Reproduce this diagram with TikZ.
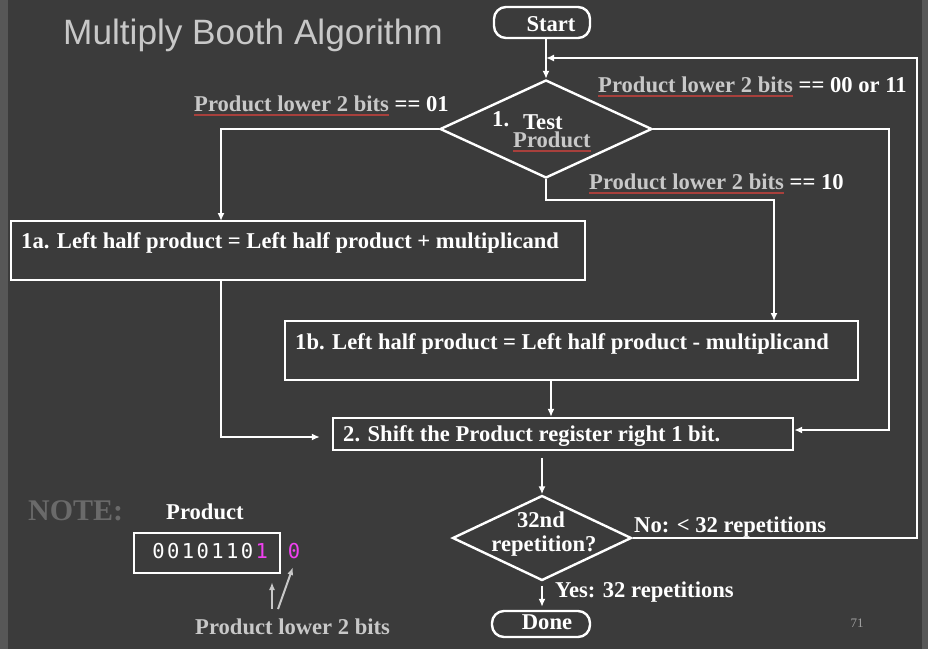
\documentclass[tikz,border=0pt]{standalone}
\usepackage{fontspec}
\setmainfont{Liberation Serif}
\setsansfont{Liberation Sans}
\newfontfamily\monofnt{DejaVu Sans Mono}
\usetikzlibrary{shapes.geometric,arrows.meta,calc}
\definecolor{bgc}{HTML}{3B3B3B}
\definecolor{stripc}{HTML}{575757}
\definecolor{lgray}{HTML}{C8C8C8}
\definecolor{ulc}{HTML}{A8403C}
\definecolor{notec}{HTML}{6A6A6A}
\definecolor{magc}{HTML}{F040F0}
\definecolor{pgc}{HTML}{A0A0A0}
\newcommand\redul[1]{\sbox0{#1}\rlap{\color{ulc}\vrule width\wd0 height -3pt depth 4.5pt}\box0\relax}
\newcommand\dg[1]{\makebox[14.75pt]{#1}}
\begin{document}
\begin{tikzpicture}[x=1pt,y=-1pt,
  lbl/.style={inner sep=0, anchor=base west, font=\fontsize{22.6}{24}\selectfont\bfseries, text=white},
  glbl/.style={lbl, text=lgray},
  box/.style={draw=white, line width=2.4pt, rectangle, inner sep=0},
  rbox/.style={box, rounded corners=12pt},
  dia/.style={draw=white, line width=2.4pt, diamond, inner sep=0},
  arr/.style={draw=white, line width=2.4pt, -{Latex[length=8pt,width=7pt]}},
  garr/.style={draw=lgray, line width=2pt, -{Latex[length=8pt,width=6pt]}}]
\fill[bgc] (0,0) rectangle (928,649);
\fill[stripc] (0,0) rectangle (8,649);
\fill[stripc] (922,0) rectangle (928,649);
\useasboundingbox (0,0) rectangle (928,649);

% title
\node[inner sep=0, anchor=base west, font=\sffamily\fontsize{35.2}{38}\selectfont, text=lgray] (title) at (63,44) {Multiply Booth Algorithm};

% shapes
\node[rbox, minimum width=96, minimum height=31] (start) at (542,22.5) {};
\node[lbl, anchor=base] (startt) at (551,31) {Start};
\node[dia, minimum width=212, minimum height=98] (d1) at (546,129) {};
\node[box, minimum width=574, minimum height=59] (b1a) at (298,250.5) {};
\node[box, minimum width=573, minimum height=59] (b1b) at (571.5,350.5) {};
\node[box, minimum width=460, minimum height=32] (b2) at (563,434) {};
\node[dia, minimum width=179, minimum height=85] (d2) at (542,538) {};
\node[rbox, minimum width=98, minimum height=26] (done) at (541,624) {};

% texts in shapes
\node[lbl] (t1) at (492,126) {1.};
\node[lbl] (t1b) at (523,129) {Test};
\node[glbl] (t1c) at (513,147) {\redul{Product}};
\node[lbl] (t1a) at (21,248) {1a. Left half product = Left half product + multiplicand};
\node[lbl] (t1bb) at (295,349) {1b. Left half product = Left half product - multiplicand};
\node[lbl] (t2) at (343,441) {2. Shift the Product register right 1 bit.};
\node[lbl, anchor=base] (t32) at (541,527) {32nd};
\node[lbl, anchor=base] (trep) at (544,551) {repetition?};
\node[lbl, anchor=base] (tdone) at (547,629) {Done};

% branch labels
\node[glbl] (l01) at (194,111) {\redul{Product lower 2 bits} \textcolor{white}{== 01}};
\node[glbl] (l00) at (598,92) {\redul{Product lower 2 bits} \textcolor{white}{== 00 or 11}};
\node[glbl] (l10) at (589,189) {\redul{Product lower 2 bits} \textcolor{white}{== 10}};
\node[lbl] (lno) at (634,532) {No: < 32 repetitions};
\node[lbl] (lyes) at (555,597) {Yes: 32 repetitions};

% connectors
\draw[arr] (start.south -| d1.north) -- (d1.north);
\coordinate (loopR) at (917,58);
\draw[arr] (d2.east) -| (loopR) -- (d1.north |- loopR);
\coordinate (rgt) at (889,129);
\draw[arr] (d1.east) -- (rgt) |- ([yshift=4pt]b2.east);
\coordinate (c1a) at (221,221);
\draw[arr] (d1.west) -| (c1a);
\coordinate (d1b) at (546,200);
\coordinate (c1b) at (774,321);
\draw[arr] (d1.south) -- (d1b) -| (c1b);
\coordinate (c1abot) at (221,280);
\draw[arr, shorten >=12pt] (c1abot) |- ([yshift=-3pt]b2.west);
\coordinate (c1bbot) at (551,380);
\draw[arr] (c1bbot) -- (c1bbot |- b2.north);
\draw[arr, shorten <=7pt] (b2.south -| d2.north) -- (d2.north);
\draw[arr, shorten <=4pt, shorten >=3pt] (d2.south) -- (d2.south |- done.north);

% note
\node[inner sep=0, anchor=base west, font=\fontsize{30}{32}\selectfont\bfseries, text=notec] (note) at (28,520) {NOTE:};
\node[lbl] (prod) at (166,519) {Product};
\node[box, minimum width=146, minimum height=40] (pbox) at (207,553) {};
\node[inner sep=0, anchor=base west, font=\monofnt\fontsize{20.5}{22}\selectfont, text=white] (bits) at (151,558) {\dg0\dg0\dg1\dg0\dg1\dg1\dg0\textcolor{magc}{\dg1}};
\node[inner sep=0, anchor=base, font=\monofnt\fontsize{20.5}{22}\selectfont, text=magc] (bit0) at (294,558) {0};
\node[glbl] (plow) at (195,634) {Product lower 2 bits};
\coordinate (a1s) at (272,609);
\coordinate (a1e) at (272,582);
\coordinate (a2s) at (278,609);
\coordinate (a2e) at (293,567);
\draw[garr] (a1s) -- (a1e);
\draw[garr] (a2s) -- (a2e);

\node[inner sep=0, anchor=base, font=\fontsize{13}{14}\selectfont, text=pgc] (pg) at (857,627) {71};
\end{tikzpicture}
\end{document}
